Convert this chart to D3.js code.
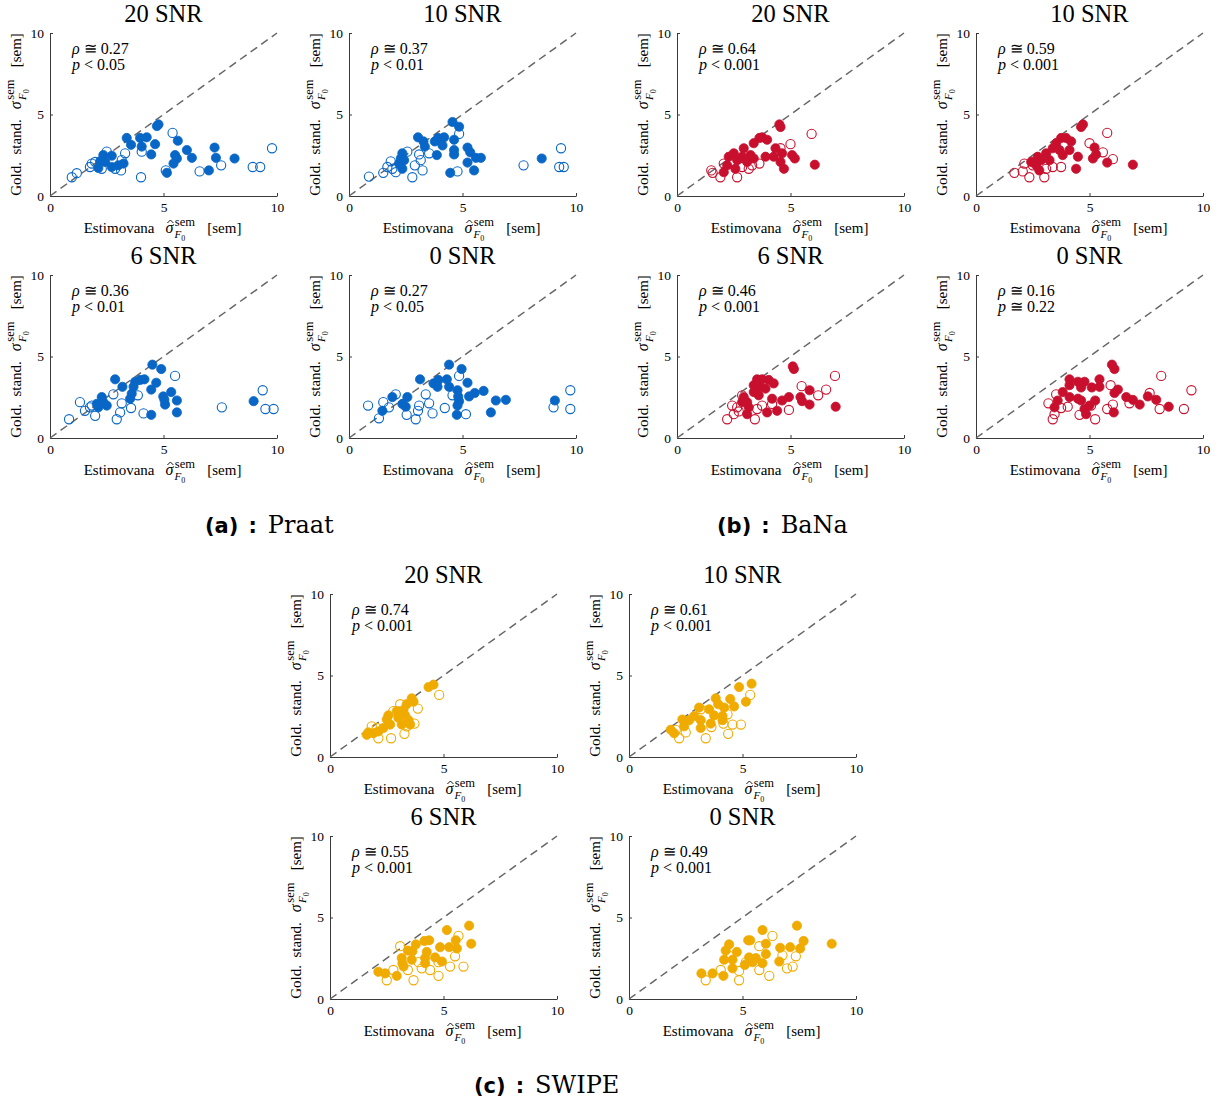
<!DOCTYPE html>
<html>
<head>
<meta charset="utf-8">
<script src="https://d3js.org/d3.v7.min.js"></script>
<style>
  body { margin: 0; background: #fff; }
  svg text { font-family: "Liberation Serif", "DejaVu Serif", serif; fill: #000; }
</style>
</head>
<body>
<div id="chart"></div>
<script>
// point lists: [estimated, gold standard, filled(1)/open(0)]
var praat20 = [
  [4.78,4.39,1],[4.71,4.29,1],[3.38,3.56,1],[3.57,3.14,1],[3.97,3.56,1],[4.26,3.6,1],[4.04,3.03,1],
  [4.63,3.18,1],[4.46,2.55,1],[5.63,3.39,1],[6.03,2.82,1],[6.25,2.34,1],[5.51,2.51,1],[5.59,2.3,1],
  [5.44,1.99,1],[5.15,1.42,1],[7.25,2.97,1],[7.31,2.34,1],[8.13,2.3,1],[7.0,1.57,1],[2.35,2.51,1],
  [2.72,2.47,1],[2.13,1.72,1],[2.72,1.78,1],[3.24,1.99,1],[2.43,2.09,1],[2.21,2.13,1],[3.01,1.88,1],
  [0.96,1.15,0],[1.18,1.4,0],[1.76,1.78,0],[1.99,2.09,0],[2.5,2.72,0],[3.31,2.62,0],[4.04,2.72,0],
  [3.13,1.57,0],[4.01,1.15,0],[5.4,3.87,0],[5.1,1.57,0],[6.59,1.51,0],[7.54,1.88,0],[8.93,1.78,0],
  [9.26,1.78,0],[9.78,2.93,0],[1.84,1.99,0],[2.28,1.67,0],[2.87,1.67,0],[3.16,2.2,0]
];
var praat10 = [
  [4.56,4.54,1],[4.85,4.25,1],[3.04,3.6,1],[3.28,3.35,1],[3.34,3.03,1],[3.78,3.35,1],[3.93,3.56,1],
  [4.19,3.6,1],[4.12,3.1,1],[3.87,2.51,1],[4.63,3.45,1],[4.63,2.82,1],[4.63,2.55,1],[5.22,2.97,1],
  [5.34,2.68,1],[5.59,2.34,1],[5.81,2.34,1],[5.22,2.05,1],[5.51,1.57,1],[4.46,1.42,1],[8.49,2.3,1],
  [2.35,2.62,1],[2.28,2.3,1],[2.21,1.99,1],[2.35,1.67,1],[2.43,2.2,1],
  [0.88,1.19,0],[1.51,1.42,0],[1.69,1.78,0],[1.84,2.13,0],[1.91,1.67,0],[2.57,2.72,0],[3.09,2.55,0],
  [3.53,2.62,0],[3.16,2.2,0],[3.24,1.57,0],[2.79,1.15,0],[2.9,1.88,0],[4.85,3.81,0],[4.78,1.51,0],
  [7.69,1.88,0],[9.34,2.93,0],[9.26,1.78,0],[9.46,1.78,0],[2.06,1.46,0]
];
var praat6 = [
  [4.51,4.5,1],[4.9,4.23,1],[2.87,3.6,1],[3.19,3.14,1],[3.75,3.45,1],[3.97,3.56,1],[4.16,3.6,1],
  [3.68,3.14,1],[3.6,2.72,1],[3.53,2.41,1],[4.68,3.39,1],[4.46,2.97,1],[4.99,2.55,1],[5.04,2.34,1],
  [5.07,2.05,1],[5.34,2.82,1],[5.59,2.3,1],[5.59,1.57,1],[4.46,1.42,1],[2.28,2.51,1],[2.35,2.2,1],
  [2.13,1.88,1],[2.5,1.99,1],[2.06,2.09,1],[8.97,2.26,1],
  [0.84,1.15,0],[1.32,2.2,0],[1.54,1.67,0],[1.76,1.88,0],[1.99,1.36,0],[2.79,2.68,0],[3.16,2.13,0],
  [3.09,1.57,0],[2.94,1.15,0],[3.57,1.84,0],[3.87,2.62,0],[4.12,1.51,0],[5.51,3.81,0],[7.57,1.88,0],
  [9.37,2.93,0],[9.49,1.78,0],[9.85,1.78,0],[1.84,1.99,0]
];
var praat0 = [
  [4.41,4.5,1],[4.96,4.23,1],[3.13,3.6,1],[3.72,3.35,1],[3.94,3.56,1],[4.31,3.6,1],[3.9,3.14,1],
  [4.41,3.14,1],[5.22,3.39,1],[4.78,2.93,1],[4.81,2.55,1],[4.85,2.26,1],[4.78,1.99,1],[5.29,2.55,1],
  [5.54,2.76,1],[5.93,2.89,1],[6.47,2.3,1],[6.91,2.34,1],[6.25,1.57,1],[4.75,1.42,1],[9.07,2.3,1],
  [1.91,2.51,1],[1.47,1.67,1],[2.57,2.51,1],[2.5,1.92,1],[2.35,2.09,1],
  [0.84,1.99,0],[1.32,1.21,0],[1.51,2.2,0],[1.76,1.88,0],[2.06,2.68,0],[2.54,1.42,0],[2.94,1.15,0],
  [3.09,1.99,0],[3.04,1.67,0],[3.38,2.68,0],[3.53,2.13,0],[3.68,1.51,0],[4.22,1.84,0],[4.56,2.62,0],
  [4.85,3.81,0],[5.15,1.46,0],[9.01,1.88,0],[9.75,2.93,0],[9.75,1.78,0]
];
var bana20 = [
  [4.51,4.39,1],[4.56,4.23,1],[3.75,3.6,1],[3.97,3.45,1],[3.63,3.56,1],[3.38,3.24,1],[2.94,2.93,1],
  [2.5,2.62,1],[2.28,2.41,1],[2.65,2.2,1],[2.87,2.41,1],[3.24,2.51,1],[3.38,2.3,1],[3.09,2.09,1],
  [2.21,1.88,1],[2.06,1.46,1],[2.57,1.67,1],[3.9,2.41,1],[4.34,2.93,1],[4.26,2.41,1],[4.63,2.62,1],
  [4.56,2.09,1],[4.71,1.67,1],[5.07,2.51,1],[5.19,2.3,1],[6.07,1.92,1],
  [1.51,1.57,0],[1.57,1.42,0],[1.91,1.15,0],[2.06,1.99,0],[2.65,1.15,0],[2.87,1.78,0],[3.16,1.67,0],
  [3.63,1.99,0],[4.56,2.93,0],[5.0,3.18,0],[5.93,3.81,0],[2.35,2.09,0],[3.31,1.88,0]
];
var bana10 = [
  [4.71,4.39,1],[4.63,4.23,1],[3.75,3.56,1],[3.97,3.56,1],[4.19,3.35,1],[3.53,3.24,1],[3.38,2.93,1],
  [3.68,2.82,1],[4.12,2.82,1],[3.82,2.51,1],[4.49,2.41,1],[3.09,2.62,1],[2.72,2.41,1],[2.87,2.2,1],
  [2.65,1.88,1],[2.79,1.57,1],[2.43,2.09,1],[5.22,2.97,1],[5.29,2.55,1],[5.15,2.3,1],[5.78,2.05,1],
  [4.41,1.67,1],[6.91,1.92,1],[3.24,2.2,1],
  [1.69,1.42,0],[2.06,1.51,0],[2.13,1.99,0],[2.35,1.15,0],[3.01,1.15,0],[3.38,1.78,0],[3.75,1.78,0],
  [2.5,1.88,0],[5.0,3.24,0],[5.59,2.68,0],[6.03,2.26,0],[5.78,3.87,0],[3.09,1.67,0]
];
var bana6 = [
  [5.1,4.39,1],[5.15,4.23,1],[3.53,3.6,1],[3.75,3.6,1],[4.04,3.56,1],[4.26,3.35,1],[3.38,3.24,1],
  [3.68,3.14,1],[3.9,3.03,1],[3.38,2.82,1],[3.6,2.62,1],[2.94,2.51,1],[3.09,2.2,1],[3.16,1.88,1],
  [3.09,1.46,1],[2.87,2.2,1],[3.97,1.57,1],[4.41,1.67,1],[4.63,2.3,1],[4.93,2.51,1],[5.44,2.51,1],
  [5.51,2.26,1],[5.84,2.93,1],[5.84,2.05,1],[6.99,1.92,1],[4.19,2.41,1],
  [2.21,1.15,0],[2.5,1.46,0],[2.43,1.99,0],[2.72,1.63,0],[2.87,2.62,0],[3.43,1.15,0],[3.53,1.78,0],
  [3.75,1.99,0],[4.19,2.09,0],[4.93,1.72,0],[5.49,3.18,0],[6.22,2.62,0],[6.57,2.97,0],[6.96,3.81,0],
  [2.65,1.88,0]
];
var bana0 = [
  [5.99,4.5,1],[6.1,4.23,1],[4.12,3.6,1],[4.49,3.45,1],[4.78,3.45,1],[5.44,3.6,1],[4.12,3.24,1],
  [4.63,3.1,1],[5.1,3.1,1],[5.44,3.14,1],[3.82,2.82,1],[3.6,2.3,1],[4.12,2.51,1],[4.49,2.41,1],
  [4.63,2.3,1],[5.25,2.3,1],[4.78,1.78,1],[4.85,1.46,1],[6.1,2.76,1],[6.25,2.97,1],[6.07,1.57,1],
  [6.62,2.51,1],[6.91,2.34,1],[7.21,2.05,1],[7.57,2.55,1],[7.94,2.34,1],[8.49,1.92,1],[3.46,1.88,1],
  [5.0,1.99,1],
  [3.19,2.13,0],[3.38,1.15,0],[3.46,1.46,0],[3.53,2.68,0],[3.75,1.84,0],[4.04,1.92,0],[4.56,1.42,0],
  [5.07,1.99,0],[5.25,1.15,0],[5.78,1.78,0],[5.93,3.24,0],[6.03,2.05,0],[6.76,2.13,0],[7.65,2.76,0],
  [8.09,1.78,0],[8.16,3.81,0],[9.16,1.78,0],[9.49,2.93,0]
];
var swipe20 = [
  [4.56,4.44,1],[4.34,4.29,1],[3.6,3.6,1],[3.68,3.39,1],[3.38,3.24,1],[3.24,2.89,1],[3.31,2.55,1],
  [3.46,2.26,1],[3.53,1.99,1],[3.01,2.41,1],[2.57,2.55,1],[2.5,2.3,1],[2.65,1.99,1],[2.35,1.78,1],
  [2.13,1.57,1],[1.69,1.51,1],[1.62,1.36,1],[1.91,1.46,1],[2.94,2.82,1],[3.16,1.99,1],
  [4.81,3.81,0],[3.87,2.97,0],[3.72,2.05,0],[3.28,1.42,0],[2.69,1.15,0],[2.13,1.15,0],[1.84,1.88,0],
  [2.06,1.78,0],[3.09,3.24,0],[3.38,1.88,0],[2.79,2.82,0]
];
var swipe10 = [
  [5.4,4.5,1],[4.85,4.29,1],[5.15,3.39,1],[4.46,3.56,1],[4.63,3.1,1],[3.82,3.6,1],[3.93,3.24,1],
  [3.53,2.93,1],[3.09,3.03,1],[4.19,3.03,1],[3.75,2.55,1],[4.12,2.51,1],[4.12,2.26,1],[2.87,2.51,1],
  [2.65,2.26,1],[3.16,2.26,1],[3.6,2.05,1],[3.16,1.78,1],[2.43,1.88,1],[1.84,1.67,1],[1.99,1.46,1],
  [2.35,2.3,1],
  [5.34,3.81,0],[4.93,1.99,0],[4.56,1.99,0],[4.37,1.42,0],[4.16,2.05,0],[3.38,1.15,0],[3.63,1.84,0],
  [2.21,1.15,0],[2.5,1.51,0],[3.16,2.93,0],[4.34,2.62,0],[2.06,1.67,0]
];
var swipe6 = [
  [6.13,4.5,1],[5.15,4.23,1],[6.22,3.39,1],[5.54,3.6,1],[5.59,3.1,1],[5.25,3.18,1],[4.85,3.18,1],
  [4.37,3.6,1],[4.16,3.56,1],[3.78,3.35,1],[3.43,2.97,1],[3.63,2.93,1],[4.26,2.89,1],[3.16,2.51,1],
  [3.19,2.2,1],[3.24,1.99,1],[3.6,2.41,1],[4.19,2.51,1],[4.63,2.55,1],[4.93,2.3,1],[4.19,2.2,1],
  [2.94,1.42,1],[2.13,1.67,1],[2.43,1.57,1],
  [5.66,3.87,0],[5.51,2.62,0],[5.88,1.99,0],[5.29,1.99,0],[4.78,1.42,0],[4.41,1.78,0],[4.04,1.88,0],
  [3.68,1.15,0],[3.43,1.78,0],[2.5,1.15,0],[2.79,1.78,0],[3.09,3.24,0],[3.9,2.26,0],[4.78,2.26,0]
];
var swipe0 = [
  [7.4,4.5,1],[5.88,4.23,1],[8.93,3.39,1],[7.69,3.56,1],[7.54,3.1,1],[7.1,3.18,1],[6.66,3.14,1],
  [5.34,3.6,1],[5.25,3.6,1],[4.41,3.35,1],[4.26,2.97,1],[4.75,2.89,1],[6.03,3.39,1],[6.03,2.76,1],
  [4.19,2.41,1],[4.56,2.41,1],[4.56,1.88,1],[5.29,2.55,1],[5.59,2.51,1],[5.1,2.09,1],[5.44,2.26,1],
  [5.88,2.2,1],[6.62,2.3,1],[4.16,1.42,1],[3.68,1.57,1],[3.19,1.57,1],
  [6.32,3.87,0],[5.74,3.24,0],[6.76,2.68,0],[7.35,2.62,0],[7.21,1.99,0],[6.96,1.88,0],[6.18,1.42,0],
  [5.74,1.78,0],[4.85,1.72,0],[4.85,1.15,0],[4.04,1.78,0],[3.38,1.15,0],[5.15,2.26,0],[4.49,2.62,0]
];

var snrTitles = ['20 SNR', '10 SNR', '6 SNR', '0 SNR'];
var rhoValues = {
  praat: ['0.27', '0.37', '0.36', '0.27'],
  bana:  ['0.64', '0.59', '0.46', '0.16'],
  swipe: ['0.74', '0.61', '0.55', '0.49']
};
var pValues = {
  praat: [['<', '0.05'], ['<', '0.01'], ['<', '0.01'], ['<', '0.05']],
  bana:  [['<', '0.001'], ['<', '0.001'], ['<', '0.001'], ['\u2245', '0.22']],
  swipe: [['<', '0.001'], ['<', '0.001'], ['<', '0.001'], ['<', '0.001']]
};
var xTicks = [0, 5, 10];
var yTicks = [0, 5, 10];

var colors = { praat: '#0866c6', bana: '#c8102e', swipe: '#f0ab00' };

var groups = [
  { key: 'praat', label: '(a)', name: 'Praat', lx: 205, ly: 533,
    data: [praat20, praat10, praat6, praat0],
    pos: [[50, 33], [349, 33], [50, 275], [349, 275]] },
  { key: 'bana', label: '(b)', name: 'BaNa', lx: 717, ly: 533,
    data: [bana20, bana10, bana6, bana0],
    pos: [[677, 33], [976, 33], [677, 275], [976, 275]] },
  { key: 'swipe', label: '(c)', name: 'SWIPE', lx: 474, ly: 1093,
    data: [swipe20, swipe10, swipe6, swipe0],
    pos: [[330, 594], [629, 594], [330, 836], [629, 836]] }
];

var W = 227, H = 163;
var axisColor = '#3a3a3a';

var svg = d3.select('#chart').append('svg')
  .attr('width', 1220)
  .attr('height', 1103);

var x = d3.scaleLinear().domain([0, 10]).range([0, W]);
var y = d3.scaleLinear().domain([0, 10]).range([H, 0]);

// "<prefix> sigma^sem_F0 [sem]"
function mathLabel(t, prefix, gap) {
  t.append('tspan').text(prefix);
  t.append('tspan').attr('dx', gap).attr('font-style', 'italic').attr('font-size', 16).text('\u03c3');
  t.append('tspan').attr('dx', 1.5).attr('dy', -7).attr('font-size', 12.5).text('sem');
  t.append('tspan').attr('dx', -20.5).attr('dy', 12).attr('font-size', 11)
    .attr('font-style', 'italic').text('F');
  t.append('tspan').attr('dy', 2.5).attr('font-size', 8).text('0');
  t.append('tspan').attr('dx', 22).attr('dy', -7.5).text('[sem]');
}

groups.forEach(function(g) {
  g.data.forEach(function(pts, i) {
    var px = g.pos[i][0], py = g.pos[i][1];
    var panel = svg.append('g').attr('transform', 'translate(' + px + ',' + py + ')');

    // title
    panel.append('text')
      .attr('x', W / 2).attr('y', -11)
      .attr('text-anchor', 'middle')
      .attr('font-size', 24.5)
      .text(snrTitles[i]);

    // axes
    var xAxis = d3.axisBottom(x).tickValues(xTicks).tickSize(-3).tickSizeOuter(0).tickPadding(6);
    var yAxis = d3.axisLeft(y).tickValues(yTicks).tickSize(-3).tickSizeOuter(0).tickPadding(6);

    var gx = panel.append('g').attr('transform', 'translate(0,' + H + ')').call(xAxis);
    var gy = panel.append('g').call(yAxis);
    [gx, gy].forEach(function(a) {
      a.select('.domain').attr('stroke', axisColor).attr('stroke-width', 1);
      a.selectAll('.tick line').attr('stroke', axisColor);
      a.selectAll('.tick text').attr('font-size', 13.5);
    });

    // identity line
    panel.append('line')
      .attr('x1', x(0)).attr('y1', y(0))
      .attr('x2', x(10)).attr('y2', y(10))
      .attr('stroke', '#666')
      .attr('stroke-width', 1.5)
      .attr('stroke-dasharray', '8,5');

    // points
    var c = colors[g.key];
    panel.append('g').selectAll('circle')
      .data(pts.filter(function(d) { return d[2] === 1; }))
      .join('circle')
        .attr('cx', function(d) { return x(d[0]); })
        .attr('cy', function(d) { return y(d[1]); })
        .attr('r', 4.6)
        .attr('fill', c)
        .attr('stroke', c)
        .attr('stroke-width', 0.8);
    panel.append('g').selectAll('circle')
      .data(pts.filter(function(d) { return d[2] === 0; }))
      .join('circle')
        .attr('cx', function(d) { return x(d[0]); })
        .attr('cy', function(d) { return y(d[1]); })
        .attr('r', 4.6)
        .attr('fill', 'none')
        .attr('stroke', c)
        .attr('stroke-width', 1.1);

    // rho / p annotation
    var t1 = panel.append('text').attr('x', 22).attr('y', 21).attr('font-size', 16);
    t1.append('tspan').attr('font-style', 'italic').text('\u03c1');
    t1.append('tspan').text(' \u2245 ' + rhoValues[g.key][i]);
    var t2 = panel.append('text').attr('x', 22).attr('y', 37).attr('font-size', 16);
    t2.append('tspan').attr('font-style', 'italic').text('p');
    t2.append('tspan').text(' ' + pValues[g.key][i][0] + ' ' + pValues[g.key][i][1]);

    // x label, hat over sigma drawn as a small path
    var xBase = H + 37;
    var prefixX = 'Estimovana';
    var xl = panel.append('text')
      .attr('x', W / 2 - 1).attr('y', xBase)
      .attr('text-anchor', 'middle')
      .attr('font-size', 15);
    mathLabel(xl, prefixX, 11);
    var ext = xl.node().getExtentOfChar(prefixX.length);
    var hc = ext.x + ext.width / 2 + 1;
    panel.append('path')
      .attr('d', 'M' + (hc - 3) + ',' + (xBase - 10) + 'L' + hc + ',' + (xBase - 13) +
                 'L' + (hc + 3) + ',' + (xBase - 10))
      .attr('fill', 'none')
      .attr('stroke', '#000')
      .attr('stroke-width', 0.9);

    // y label
    var yl = panel.append('text')
      .attr('transform', 'translate(-29,' + (H / 2) + ') rotate(-90)')
      .attr('text-anchor', 'middle')
      .attr('font-size', 15);
    mathLabel(yl, 'Gold.\u00a0\u00a0stand.', 10);
  });

  // group caption
  var cap = svg.append('text').attr('x', g.lx).attr('y', g.ly);
  cap.append('tspan')
    .attr('font-family', '"DejaVu Sans", sans-serif')
    .attr('font-weight', 'bold')
    .attr('font-size', 21)
    .text(g.label);
  cap.append('tspan')
    .attr('dx', 10)
    .attr('font-family', '"DejaVu Sans", sans-serif')
    .attr('font-weight', 'bold')
    .attr('font-size', 21)
    .text(':');
  cap.append('tspan')
    .attr('dx', 11)
    .attr('font-family', '"DejaVu Serif", serif')
    .attr('font-size', 24)
    .text(g.name);
});
</script>
</body>
</html>
